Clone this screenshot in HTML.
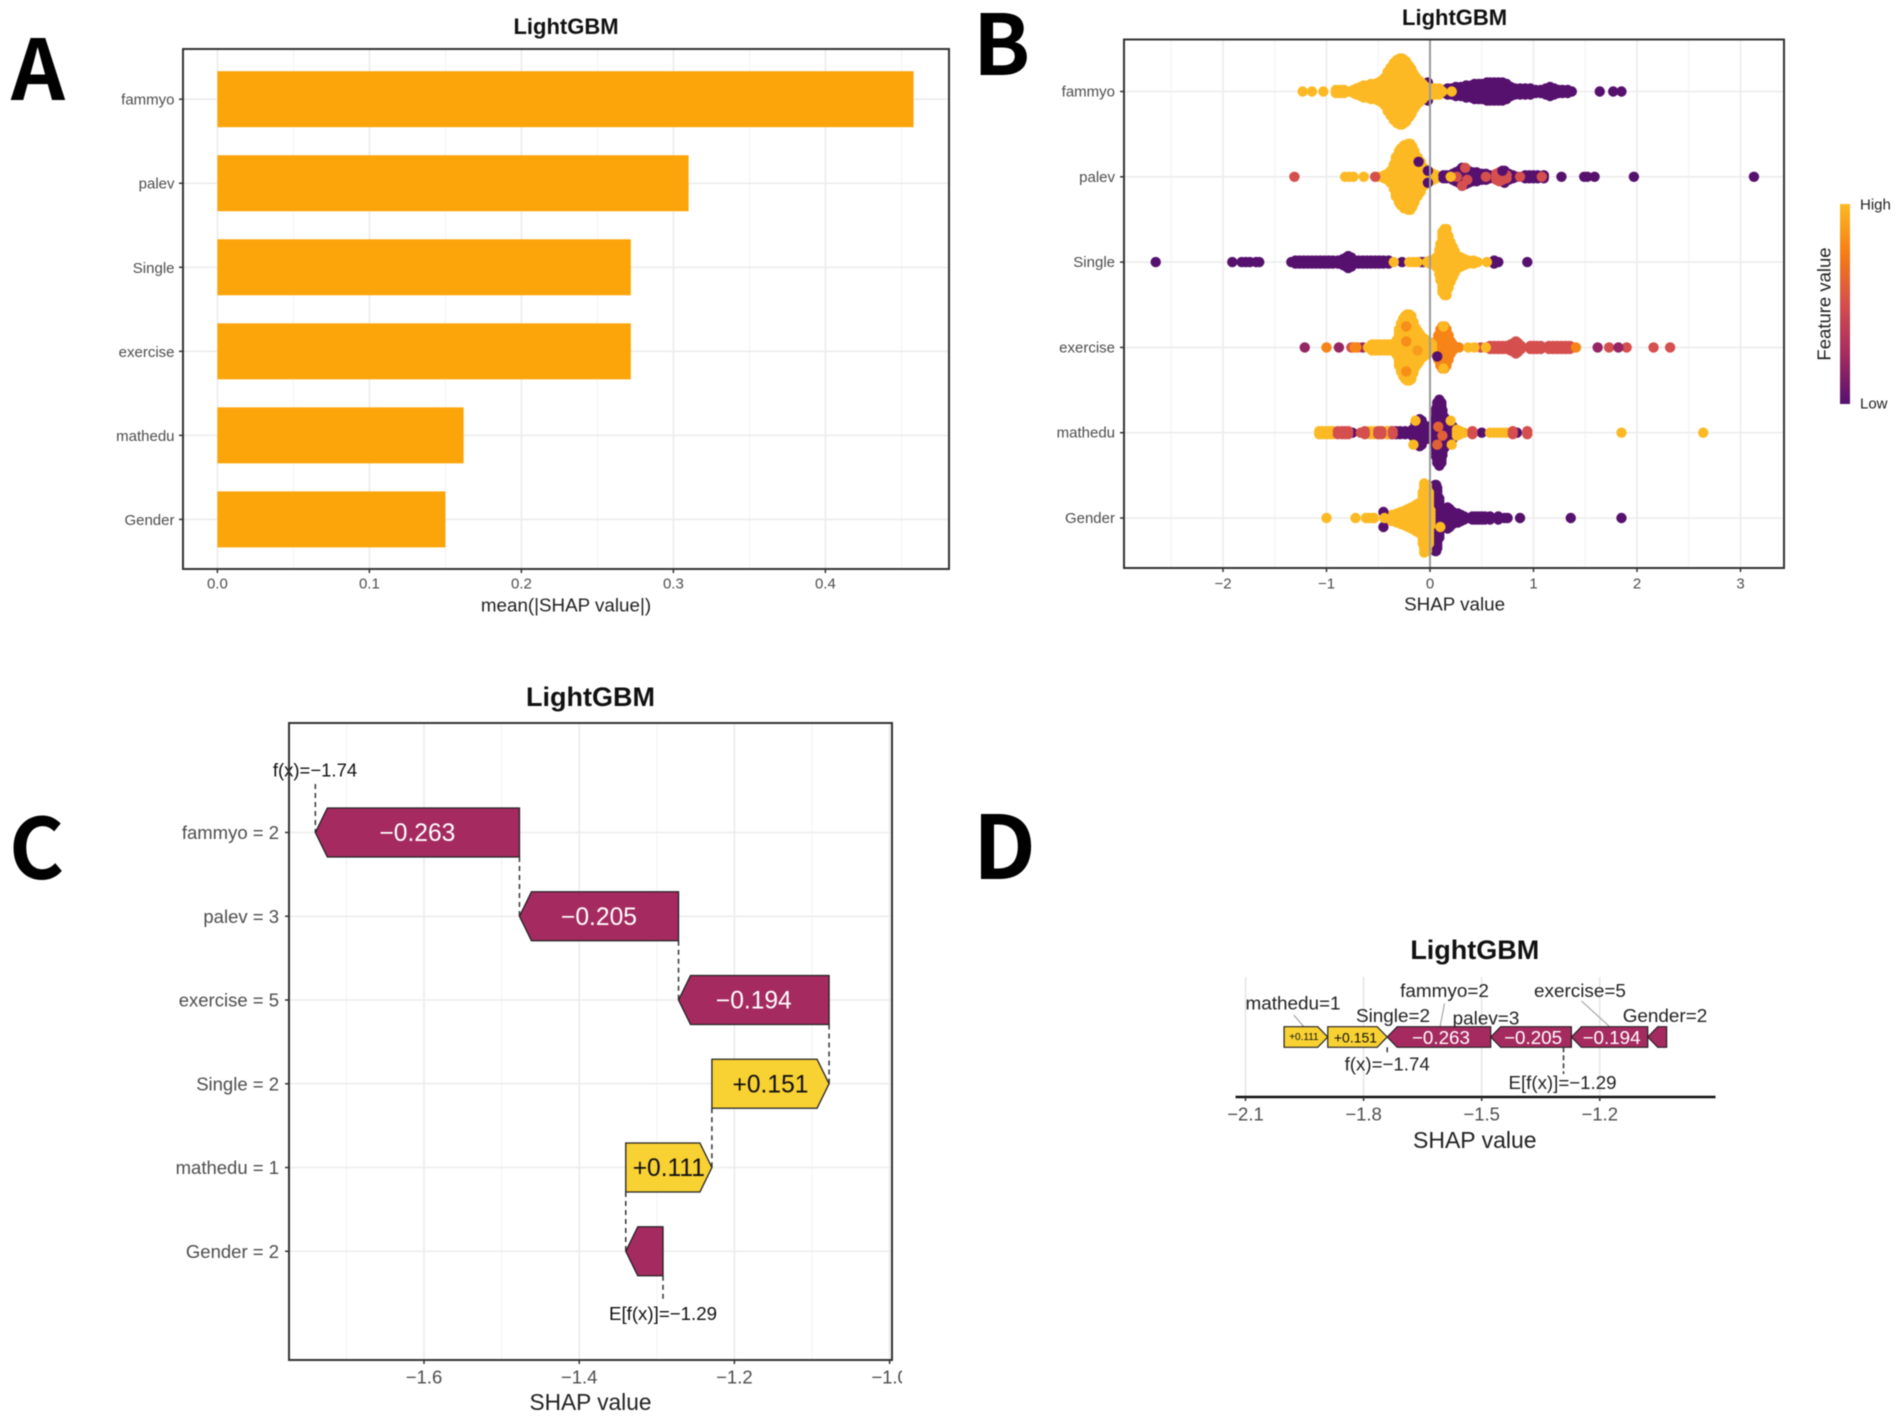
<!DOCTYPE html>
<html lang="en">
<head>
<meta charset="utf-8">
<title>LightGBM SHAP panels</title>
<style>
html,body{margin:0;padding:0;background:#fff;}
svg{display:block;font-family:"Liberation Sans",sans-serif;filter:blur(0.4px);}
.letter{font-family:"Noto Sans CJK SC","Liberation Sans",sans-serif;font-weight:700;fill:#000;}
.title{font-weight:700;fill:#111;text-anchor:middle;}
</style>
</head>
<body>
<svg id="figure" xmlns="http://www.w3.org/2000/svg" width="1902" height="1422" viewBox="0 0 1902 1422">
  <defs>
    <linearGradient id="featureGradient" x1="0" y1="1" x2="0" y2="0"></linearGradient>
    <clipPath id="clipC"><rect x="0" y="1350" width="902" height="60"></rect></clipPath>
  </defs>
  <rect x="0" y="0" width="1902" height="1422" fill="#fff"></rect>
  <text class="letter" x="11" y="100" font-size="84">A</text>
  <text class="letter" x="973" y="75" font-size="84">B</text>
  <text class="letter" x="9" y="879" font-size="84">C</text>
  <text class="letter" x="973" y="879" font-size="88">D</text>
  <text class="title" x="566" y="34" font-size="22">LightGBM</text>
  <text class="title" x="1454.6" y="25" font-size="22">LightGBM</text>
  <text class="title" x="590.5" y="706" font-size="27">LightGBM</text>
  <text class="title" x="1474.8" y="959" font-size="27">LightGBM</text>
  <g id="panelA"></g>
  <g id="panelB"></g>
  <g id="panelC"></g>
  <g id="panelD"></g>
</svg>
<script>
// ---------- Panel A data ----------
const importanceFeatures = ['fammyo','palev','Single','exercise','mathedu','Gender'];
const importanceValues = [0.458,0.310,0.272,0.272,0.162,0.150];
const importanceTicks = [0,0.1,0.2,0.3,0.4];
const importanceTickLabels = ['0.0','0.1','0.2','0.3','0.4'];

// ---------- Panel B data: SHAP value bins and number of samples in each bin ----------
const swarmFeatures = ['fammyo','palev','Single','exercise','mathedu','Gender'];
const swarmTicks = [-2,-1,0,1,2,3];
const swarmTickLabels = ['\u22122','\u22121','0','1','2','3'];
const colorStops = ['#56106e','#a52c60','#d44f4d','#f57d15','#fcb924'];

const fammyoLowShap = [-0.05,-0.02,0.12,0.17,0.21,0.25,0.30,0.35,0.40,0.43,0.47,0.50,0.55,0.58,0.62,0.66,0.70,0.74,0.78,0.82,0.87,0.92,0.97,1.02,1.07,1.12,1.16,1.20,1.24,1.28,1.33,1.37,1.64,1.77,1.85];
const fammyoLowCount = [5,7,2,3,3,4,4,5,5,6,6,6,7,7,7,7,7,6,4,3,3,3,3,2,2,3,4,3,2,2,2,1,1,1,1];
const fammyoHighShap = [-1.23,-1.14,-1.03,-0.91,-0.87,-0.83,-0.79,-0.74,-0.71,-0.67,-0.64,-0.60,-0.57,-0.53,-0.50,-0.47,-0.44,-0.41,-0.38,-0.35,-0.32,-0.29,-0.27,-0.25,-0.23,-0.20,-0.18,-0.16,-0.14,-0.12,-0.10,-0.07,-0.04,0.03,0.06,0.09,0.12,0.21];
const fammyoHighCount = [1,1,1,2,2,2,1,2,3,4,5,5,6,6,7,8,10,14,17,20,22,23,23,22,21,18,16,13,11,9,8,6,4,3,3,3,1,1];

const palevHighShap = [-0.82,-0.78,-0.74,-0.64,-0.50,-0.47,-0.44,-0.41,-0.38,-0.35,-0.33,-0.30,-0.28,-0.25,-0.21,-0.19,-0.17,-0.15,-0.12,-0.09,-0.06,-0.03,0.00,0.03,0.06,0.09];
const palevHighCount = [1,1,1,1,1,1,2,3,5,9,14,18,20,22,23,23,21,18,14,11,7,5,4,3,2,1];
const palevLowShap = [0.13,0.16,0.22,0.25,0.28,0.31,0.34,0.37,0.41,0.45,0.50,0.54,0.58,0.68,0.72,0.76,0.80,0.84,0.92,0.96,1.00,1.04,1.10,1.27,1.49,1.52,1.59,1.97,3.13];
const palevLowCount = [2,2,3,4,5,7,6,5,4,4,3,3,2,3,5,3,2,1,2,2,2,2,2,1,1,1,1,1,1];
const palevMidShap = [-1.31,-0.53,0.26,0.54,0.64,0.67,0.70,0.74,0.87,1.08];
const palevMidCount = [1,1,1,1,3,4,3,2,1,1];

const singleLowShap = [-2.65,-1.91,-1.82,-1.78,-1.74,-1.68,-1.65,-1.34,-1.30,-1.26,-1.22,-1.18,-1.14,-1.10,-1.06,-1.02,-0.98,-0.94,-0.89,-0.84,-0.81,-0.79,-0.76,-0.73,-0.69,-0.65,-0.61,-0.57,-0.53,-0.49,-0.45,-0.40,-0.27,-0.09,-0.06,0.62,0.66,0.94];
const singleLowCount = [1,1,1,1,1,1,1,1,2,2,2,2,2,2,2,2,2,2,2,3,4,5,4,2,2,2,2,2,2,2,2,2,1,1,1,2,1,1];
const singleHighShap = [-0.35,-0.20,-0.16,-0.12,-0.03,0.00,0.03,0.06,0.09,0.10,0.12,0.14,0.16,0.18,0.20,0.22,0.24,0.27,0.30,0.33,0.37,0.42,0.46,0.55];
const singleHighCount = [1,1,1,1,1,2,2,4,9,13,21,23,23,18,14,11,8,5,4,3,2,2,1,1];

const exerciseMagentaShap = [-1.21,-0.88,-0.65,1.62,1.82];
const exerciseMagentaCount = [1,1,1,1,1];
const exerciseRedShap = [-0.76,-0.74,-0.70,0.49,0.58,0.62,0.66,0.70,0.74,0.78,0.81,0.83,0.85,0.88,0.97,1.00,1.03,1.07,1.15,1.19,1.23,1.27,1.31,1.35,1.38,1.73,1.90,2.16,2.32];
const exerciseRedCount = [1,1,1,1,2,2,2,2,2,3,4,5,4,2,2,2,2,2,2,2,2,2,2,2,1,1,1,1,1];
const exerciseOrangeShap = [-1.00,-0.73,-0.71,0.28,1.41,0.06,0.08,0.10,0.12,0.14,0.16,0.18,0.20,0.22];
const exerciseOrangeCount = [1,1,1,1,1,5,9,13,15,15,13,9,5,3];
const exerciseHighShap = [-0.60,-0.56,-0.52,-0.48,-0.44,-0.40,-0.36,-0.34,-0.32,-0.30,-0.28,-0.26,-0.24,-0.22,-0.20,-0.18,-0.16,-0.14,-0.12,-0.10,-0.08,-0.06,-0.04,-0.02,0.00,0.02,0.37,0.43,0.54];
const exerciseHighCount = [1,3,3,3,3,3,3,4,6,13,17,20,22,23,23,22,18,14,12,10,8,7,6,5,4,3,1,1,1];

const mathHighShap = [-1.07,-1.04,-1.00,-0.97,-0.94,-0.58,-0.54,-0.50,-0.46,-0.41,0.26,0.29,0.33,0.58,0.62,0.66,0.70,0.74,1.85,2.64];
const mathHighCount = [2,2,2,2,2,2,2,2,2,2,3,2,1,1,1,1,1,1,1,1];
const mathMidShap = [-0.89,-0.85,-0.82,-0.79,-0.67,-0.63,-0.50,-0.47,-0.36,0.41,0.80,0.94];
const mathMidCount = [2,2,2,2,1,2,2,2,2,2,2,2];
const mathLowShap = [-0.94,-0.75,-0.45,-0.41,-0.37,-0.33,-0.29,-0.24,-0.17,-0.14,-0.12,-0.10,-0.08,-0.06,-0.03,0.00,0.02,0.04,0.06,0.07,0.09,0.11,0.12,0.14,0.16,0.18,0.20,0.22,0.25,0.50,0.84];
const mathLowCount = [1,1,1,2,2,2,2,2,3,7,9,10,9,6,5,4,6,9,17,21,23,21,16,11,9,8,7,5,3,1,1];

const genderLowShap = [0.02,0.03,0.05,0.06,0.07,0.09,0.11,0.13,0.15,0.17,0.19,0.22,0.24,0.27,0.30,0.33,0.36,0.41,0.44,0.47,0.50,0.53,0.58,0.66,0.72,0.75,0.87,1.36,1.85];
const genderLowCount = [8,18,23,23,21,14,8,7,7,8,7,5,4,4,3,2,1,2,2,2,2,2,2,2,1,1,1,1,1];
const genderHighShap = [-1.00,-0.72,-0.62,-0.59,-0.56,-0.54,-0.44,-0.41,-0.37,-0.32,-0.28,-0.24,-0.21,-0.18,-0.15,-0.13,-0.10,-0.07,-0.056,-0.03,-0.01,0.005];
const genderHighCount = [1,1,1,1,1,1,1,2,3,4,5,6,7,8,9,10,11,18,24,23,18,6];

// Layers are painted in this order: [row, feature value (0 low .. 1 high), SHAP bins, counts]
const swarmLayers = [
  ['fammyo',0,fammyoLowShap,fammyoLowCount],
  ['fammyo',1,fammyoHighShap,fammyoHighCount],
  ['palev',1,palevHighShap,palevHighCount],
  ['palev',0,palevLowShap,palevLowCount],
  ['palev',0.5,palevMidShap,palevMidCount],
  ['Single',0,singleLowShap,singleLowCount],
  ['Single',1,singleHighShap,singleHighCount],
  ['exercise',0.5,exerciseRedShap,exerciseRedCount],
  ['exercise',0.2,exerciseMagentaShap,exerciseMagentaCount],
  ['exercise',0.78,exerciseOrangeShap,exerciseOrangeCount],
  ['exercise',1,exerciseHighShap,exerciseHighCount],
  ['mathedu',0,mathLowShap,mathLowCount],
  ['mathedu',1,mathHighShap,mathHighCount],
  ['mathedu',0.5,mathMidShap,mathMidCount],
  ['Gender',0,genderLowShap,genderLowCount],
  ['Gender',1,genderHighShap,genderHighCount]
];

// Individual samples on top of the swarm: row, SHAP value, swarm slot, feature value
const accentRow = ['palev','palev','palev','palev','palev','palev','palev','palev','exercise','exercise','exercise','exercise','exercise','exercise','exercise','mathedu','mathedu','mathedu','mathedu','mathedu','mathedu','mathedu','Gender','Gender','Gender','Gender'];
const accentShap = [-0.11,-0.02,-0.02,0.20,0.31,0.34,0.36,0.70,-0.23,-0.23,-0.23,-0.12,0.13,0.13,0.07,0.07,0.12,0.08,0.20,0.21,-0.16,-0.14,-0.45,-0.45,-0.44,0.10];
const accentSlot = [-5,-2,2,0,3,-3,1,-2,-7,-2,8,1,-7,7,3,4,1,-2,-4,4,4,-4,-2,3,0,3];
const accentFeat = [0,0,0,1,0.5,0.5,0.5,0,0.82,0.82,0.82,0.88,1,1,0,0.6,0.6,0.6,1,1,1,1,0,0,1,1];

// ---------- Panel C / D data ----------
const waterfallFeatures = ['fammyo = 2','palev = 3','exercise = 5','Single = 2','mathedu = 1','Gender = 2'];
const waterfallContrib = [-0.263,-0.205,-0.194,0.151,0.111,-0.048];
const waterfallLabels = ['\u22120.263','\u22120.205','\u22120.194','+0.151','+0.111',''];
const predictedValue = -1.74;
const expectedValue = -1.292;
const waterfallTicks = [-1.6,-1.4,-1.2,-1.0];
const waterfallTickLabels = ['\u22121.6','\u22121.4','\u22121.2','\u22121.0'];
const fxLabel = 'f(x)=\u22121.74';
const efxLabel = 'E[f(x)]=\u22121.29';

const forcePositiveNames = ['Single=2','mathedu=1'];
const forcePositiveValues = [0.151,0.111];
const forcePositiveLabels = ['+0.151','+0.111'];
const forceNegativeNames = ['fammyo=2','palev=3','exercise=5','Gender=2'];
const forceNegativeValues = [0.263,0.205,0.194,0.048];
const forceNegativeLabels = ['\u22120.263','\u22120.205','\u22120.194',''];
const forceTicks = [-2.1,-1.8,-1.5,-1.2];
const forceTickLabels = ['\u22122.1','\u22121.8','\u22121.5','\u22121.2'];

// ---------- helpers ----------
const NS = 'http://www.w3.org/2000/svg';
const INK = '#4d4d4d', GRID = '#ececec', BORDER = '#333';

function line(parent, x1, y1, x2, y2, color, width, name, dash) {
  const el = document.createElementNS(NS, 'line');
  el.setAttribute('x1', x1);
  el.setAttribute('y1', y1);
  el.setAttribute('x2', x2);
  el.setAttribute('y2', y2);
  el.setAttribute('stroke', color);
  el.setAttribute('stroke-width', width);
  if (dash) el.setAttribute('stroke-dasharray', dash);
  
  
  parent.appendChild(el);
  return el;
}
function label(parent, x, y, str, size, anchor, color, name) {
  const el = document.createElementNS(NS, 'text');
  el.setAttribute('x', x);
  el.setAttribute('y', y);
  el.setAttribute('font-size', size);
  el.setAttribute('text-anchor', anchor);
  el.setAttribute('dominant-baseline', 'central');
  el.setAttribute('fill', color);
  el.textContent = str;
  
  
  parent.appendChild(el);
  return el;
}
function box(parent, x0, y0, x1, y1, name) {
  const el = document.createElementNS(NS, 'rect');
  el.setAttribute('x', x0);
  el.setAttribute('y', y0);
  el.setAttribute('width', x1 - x0);
  el.setAttribute('height', y1 - y0);
  el.setAttribute('fill', 'none');
  el.setAttribute('stroke', BORDER);
  el.setAttribute('stroke-width', 2);
  
  
  parent.appendChild(el);
}
function featureColor(f) {
  const t = Math.max(0, Math.min(1, f)) * (colorStops.length - 1);
  const i = Math.min(colorStops.length - 2, Math.floor(t));
  const a = parseInt(colorStops[i].slice(1), 16), b = parseInt(colorStops[i + 1].slice(1), 16);
  const mix = s => Math.round(((a >> s) & 255) + (((b >> s) & 255) - ((a >> s) & 255)) * (t - i));
  return 'rgb(' + mix(16) + ',' + mix(8) + ',' + mix(0) + ')';
}

// ---------- Panel A ----------
(function () {
  const g = document.getElementById('panelA');
  const L = 183, R = 949, T = 49, B = 569;
  const x = v => 217.4 + v * 1520;
  const y = i => 99.2 + i * 84.04;
  for (let v = 0.05; v < 0.5; v += 0.1) line(g, x(v), T, x(v), B, '#f3f3f3', 1, 'minor-gridline-x');
  importanceTicks.forEach(t => line(g, x(t), T, x(t), B, GRID, 1.6, 'gridline-x'));
  importanceFeatures.forEach((f, i) => line(g, L, y(i), R, y(i), GRID, 1.6, 'gridline-y'));
  importanceFeatures.forEach((f, i) => {
    const r = document.createElementNS(NS, 'rect');
    r.setAttribute('x', x(0));
    r.setAttribute('y', y(i) - 28);
    r.setAttribute('width', x(importanceValues[i]) - x(0));
    r.setAttribute('height', 56);
    r.setAttribute('fill', '#fca50a');
    
    
    g.appendChild(r);
    line(g, L - 4, y(i), L, y(i), '#333', 1.5, 'y-tick');
    label(g, L - 8.5, y(i) + 1, f, 15, 'end', INK, 'y-label-' + f);
  });
  box(g, L, T, R, B, 'panel-a-border');
  importanceTicks.forEach((t, i) => {
    line(g, x(t), B, x(t), B + 4, '#333', 1.5, 'x-tick');
    label(g, x(t), 584, importanceTickLabels[i], 15, 'middle', INK, 'x-tick-label');
  });
  label(g, 566, 605, 'mean(|SHAP value|)', 18.8, 'middle', '#222', 'x-axis-title');
})();

// ---------- Panel B ----------
(function () {
  const g = document.getElementById('panelB');
  const L = 1124, R = 1784, T = 39.5, B = 568;
  const x = v => 1430 + v * 103.5;
  const y = name => 91.5 + swarmFeatures.indexOf(name) * 85.3;
  const swarmStep = 3, radius = 5.2;
  for (let v = -2.5; v < 3.5; v += 1) line(g, x(v), T, x(v), B, '#f3f3f3', 1, 'minor-gridline-x');
  swarmTicks.forEach(t => line(g, x(t), T, x(t), B, GRID, 1.6, 'gridline-x'));
  swarmFeatures.forEach(f => line(g, L, y(f), R, y(f), GRID, 1.6, 'gridline-y'));
  const dots = document.createElementNS(NS, 'g');
  
  
  g.appendChild(dots);
  function dot(row, shap, slot, feat) {
    const c = document.createElementNS(NS, 'circle');
    c.setAttribute('cx', x(shap));
    c.setAttribute('cy', y(row) + slot * swarmStep);
    c.setAttribute('r', radius);
    c.setAttribute('fill', featureColor(feat));
    
    
    dots.appendChild(c);
  }
  swarmLayers.forEach(layer => {
    const row = layer[0], feat = layer[1], shap = layer[2], count = layer[3];
    shap.forEach((s, i) => {
      for (let j = 0; j < count[i]; j++) dot(row, s, j - (count[i] - 1) / 2, feat);
    });
  });
  accentShap.forEach((s, i) => dot(accentRow[i], s, accentSlot[i], accentFeat[i]));
  line(g, x(0), T, x(0), B, '#9a9a9a', 2, 'zero-reference-line');
  box(g, L, T, R, B, 'panel-b-border');
  swarmFeatures.forEach(f => {
    line(g, L - 4, y(f), L, y(f), '#333', 1.5, 'y-tick');
    label(g, L - 9, y(f) + 0.5, f, 15, 'end', INK, 'y-label-' + f);
  });
  swarmTicks.forEach((t, i) => {
    line(g, x(t), B, x(t), B + 4, '#333', 1.5, 'x-tick');
    label(g, x(t), 584, swarmTickLabels[i], 15, 'middle', INK, 'x-tick-label');
  });
  label(g, 1454.6, 604, 'SHAP value', 18.8, 'middle', '#222', 'x-axis-title');
  const grad = document.getElementById('featureGradient');
  colorStops.forEach((col, i) => {
    const s = document.createElementNS(NS, 'stop');
    s.setAttribute('offset', i / (colorStops.length - 1));
    s.setAttribute('stop-color', col);
    grad.appendChild(s);
  });
  const bar = document.createElementNS(NS, 'rect');
  bar.setAttribute('x', 1840);
  bar.setAttribute('y', 204);
  bar.setAttribute('width', 10);
  bar.setAttribute('height', 200);
  bar.setAttribute('fill', 'url(#featureGradient)');
  
  
  g.appendChild(bar);
  label(g, 1860, 205, 'High', 15, 'start', '#222', 'legend-high-label');
  label(g, 1860, 404, 'Low', 15, 'start', '#222', 'legend-low-label');
  const ft = label(g, 0, 0, 'Feature value', 18.5, 'middle', '#222', 'legend-title');
  ft.setAttribute('transform', 'translate(1824 304) rotate(-90)');
})();

// ---------- Panel C ----------
(function () {
  const g = document.getElementById('panelC');
  const L = 289, R = 892, T = 723, B = 1360;
  const x = v => 424 + (v + 1.6) * 776;
  const y = i => 832.5 + i * 83.75;
  const half = 24.5, tip = 12;
  [-1.7, -1.5, -1.3, -1.1].forEach(v => line(g, x(v), T, x(v), B, '#f3f3f3', 1, 'minor-gridline-x'));
  waterfallTicks.forEach(t => line(g, x(t), T, x(t), B, GRID, 1.6, 'gridline-x'));
  waterfallFeatures.forEach((f, i) => line(g, L, y(i), R, y(i), GRID, 1.6, 'gridline-y'));
  let cum = predictedValue;
  line(g, x(cum), 784, x(cum), y(0), '#333', 1.5, 'fx-connector', '5 4');
  label(g, 315, 770, fxLabel, 18.5, 'middle', '#111', 'fx-label');
  waterfallFeatures.forEach((f, i) => {
    const c = waterfallContrib[i];
    const a = x(cum), b = x(cum - c);
    const dir = Math.sign(b - a);
    const poly = document.createElementNS(NS, 'polygon');
    poly.setAttribute('points', [[a, y(i)], [a + dir * tip, y(i) - half], [b, y(i) - half], [b, y(i) + half], [a + dir * tip, y(i) + half]].map(p => p.join(',')).join(' '));
    poly.setAttribute('fill', c < 0 ? '#a52a60' : '#f8d133');
    poly.setAttribute('stroke', '#222');
    poly.setAttribute('stroke-width', 1.3);
    
    
    g.appendChild(poly);
    if (waterfallLabels[i]) label(g, (a + b) / 2, y(i) + 1, waterfallLabels[i], 24.6, 'middle', c < 0 ? '#fff' : '#111', 'waterfall-value-' + i);
    const nextY = i < waterfallFeatures.length - 1 ? y(i + 1) : 1300;
    line(g, b, y(i) + half, b, nextY, '#333', 1.5, 'waterfall-connector', '5 4');
    cum -= c;
    line(g, L - 4, y(i), L, y(i), '#333', 1.5, 'y-tick');
    label(g, 279, y(i), f, 18.5, 'end', INK, 'y-label-' + i);
  });
  label(g, x(expectedValue), 1313.5, efxLabel, 18.7, 'middle', '#111', 'efx-label');
  box(g, L, T, R, B, 'panel-c-border');
  const tickLabels = document.createElementNS(NS, 'g');
  tickLabels.setAttribute('clip-path', 'url(#clipC)');
  
  
  g.appendChild(tickLabels);
  waterfallTicks.forEach((t, i) => {
    line(g, x(t), B, x(t), B + 4, '#333', 1.5, 'x-tick');
    label(tickLabels, x(t), 1377, waterfallTickLabels[i], 18.5, 'middle', INK, 'x-tick-label');
  });
  label(g, 590.5, 1402, 'SHAP value', 22.7, 'middle', '#222', 'x-axis-title');
})();

// ---------- Panel D ----------
(function () {
  const g = document.getElementById('panelD');
  const x = v => 1245.5 + (v + 2.1) * 393.6;
  const cy = 1037, half = 10.3, tip = 10, axisY = 1097;
  forceTicks.forEach(t => line(g, x(t), 977, x(t), axisY, '#e6e6e6', 1.6, 'gridline-x'));
  const names = [
    ['mathedu=1', 1293, 1004], ['Single=2', 1393, 1016.7], ['fammyo=2', 1444.5, 991.7],
    ['palev=3', 1486, 1019], ['exercise=5', 1580, 991.7], ['Gender=2', 1665, 1016.7]
  ];
  names.forEach(n => label(g, n[1], n[2], n[0], 18.9, 'middle', '#222', 'force-feature-label'));
  line(g, 1293.7, 1015, 1305, 1028, '#999', 1, 'label-leader');
  line(g, 1444.5, 1003.5, 1440, 1027, '#999', 1, 'label-leader');
  line(g, 1581.5, 1001, 1610, 1027, '#999', 1, 'label-leader');
  function seg(from, to, c, text, name) {
    const a = x(from), b = x(to);
    const d = Math.sign(b - a);
    const poly = document.createElementNS(NS, 'polygon');
    poly.setAttribute('points', [[a, cy], [a + d * tip, cy - half], [b, cy - half], [b, cy + half], [a + d * tip, cy + half]].map(p => p.join(',')).join(' '));
    poly.setAttribute('fill', c > 0 ? '#f8d133' : '#a52a60');
    poly.setAttribute('stroke', '#222');
    poly.setAttribute('stroke-width', 1.2);
    
    
    g.appendChild(poly);
    if (text) {
      const size = Math.abs(c) < 0.12 ? 10 : Math.abs(c) < 0.16 ? 14 : 18.8;
      label(g, (a + b) / 2 + (c > 0 ? -2 : 2), cy + 0.5, text, size, 'middle', c > 0 ? '#111' : '#fff', name + '-value');
    }
  }
  let pos = predictedValue;
  forcePositiveNames.forEach((n, i) => {
    seg(pos, pos - forcePositiveValues[i], forcePositiveValues[i], forcePositiveLabels[i], 'force-segment-' + n);
    pos -= forcePositiveValues[i];
  });
  let neg = predictedValue;
  forceNegativeNames.forEach((n, i) => {
    seg(neg, neg + forceNegativeValues[i], -forceNegativeValues[i], forceNegativeLabels[i], 'force-segment-' + n);
    neg += forceNegativeValues[i];
  });
  line(g, x(predictedValue), cy + half, x(predictedValue), 1055, '#333', 1.5, 'fx-connector', '5 3');
  line(g, x(expectedValue), cy + half, x(expectedValue), 1074, '#333', 1.5, 'efx-connector', '5 3');
  label(g, x(predictedValue), 1064, fxLabel, 18.7, 'middle', '#222', 'fx-label');
  label(g, x(expectedValue) - 1, 1082.7, efxLabel, 18.7, 'middle', '#222', 'efx-label');
  line(g, 1235.5, axisY, 1715.5, axisY, '#111', 2.4, 'x-axis-line');
  forceTicks.forEach((t, i) => {
    line(g, x(t), axisY, x(t), axisY + 4, '#333', 1.5, 'x-tick');
    label(g, x(t), 1114, forceTickLabels[i], 18.5, 'middle', INK, 'x-tick-label');
  });
  label(g, 1474.8, 1140, 'SHAP value', 23, 'middle', '#222', 'x-axis-title');
})();
</script>
</body>
</html>
